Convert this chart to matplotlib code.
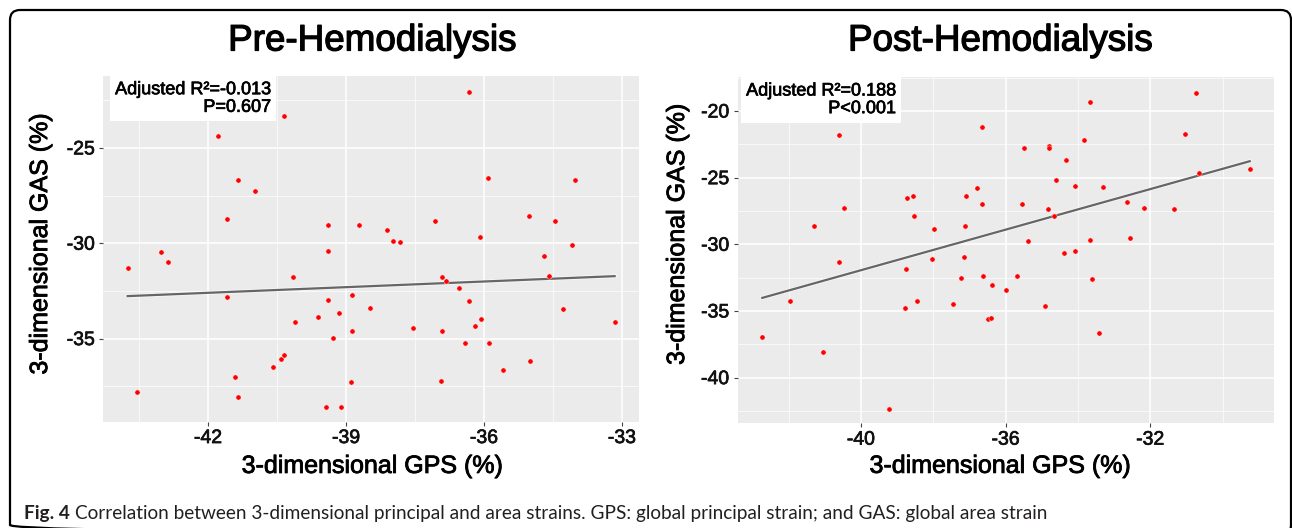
import matplotlib
matplotlib.use('Agg')
import matplotlib.pyplot as plt
import numpy as np
from matplotlib.patches import FancyBboxPatch
from matplotlib.ticker import MultipleLocator
import matplotlib.patheffects as pe

plt.rcParams['font.family'] = ['Liberation Sans', 'DejaVu Sans']

# values
pre_gps = [-43.75, -43.55, -43.02, -42.88, -41.78, -40.34, -41.34, -40.99, -41.59, -41.58, -41.41,
           -41.35, -40.59, -40.41, -40.35, -40.15, -40.11, -39.60, -39.40, -39.40, -39.40, -39.43,
           -38.72, -38.12, -37.98, -37.83, -37.06, -36.33, -35.92, -34.02, -35.03, -34.46, -36.08,
           -34.08, -34.69, -34.58, -36.92, -36.83, -36.55, -38.88, -38.47, -39.15, -36.33, -34.29,
           -36.06, -36.20, -37.54, -36.92, -38.88, -39.29, -33.16, -36.41, -35.89, -35.01, -35.59,
           -38.89, -36.94, -39.10]
pre_gas = [-31.30, -37.80, -30.46, -30.96, -24.37, -23.31, -26.70, -27.27, -28.71, -32.82, -37.00,
           -38.06, -36.50, -36.05, -35.84, -31.77, -34.14, -33.85, -29.04, -30.39, -32.97, -38.57,
           -29.06, -29.30, -29.90, -29.93, -28.83, -22.07, -26.56, -26.70, -28.57, -28.82, -29.67,
           -30.09, -30.67, -31.71, -31.78, -31.99, -32.36, -32.73, -33.38, -33.67, -33.04, -33.43,
           -33.97, -34.35, -34.44, -34.58, -34.62, -34.95, -34.13, -35.23, -35.23, -36.17, -36.64,
           -37.29, -37.24, -38.57]

post_gps = [-42.73, -41.97, -41.05, -41.31, -40.62, -40.46, -40.62, -39.22, -38.74, -38.57, -38.54,
            -38.75, -38.78, -38.46, -37.99, -38.03, -37.45, -37.23, -37.16, -37.12, -37.09, -36.80,
            -36.66, -36.66, -36.62, -36.37, -36.49, -36.41, -36.00, -35.68, -35.56, -35.50, -35.39,
            -34.91, -34.84, -34.80, -34.80, -34.66, -34.60, -34.39, -34.32, -34.08, -34.08, -33.84,
            -33.66, -33.66, -33.61, -33.42, -33.32, -32.64, -32.56, -32.18, -31.35, -31.03, -30.73,
            -30.66, -29.25]
post_gas = [-36.98, -34.23, -38.06, -28.60, -21.82, -27.25, -31.35, -42.33, -26.53, -26.35, -27.90,
            -31.83, -34.76, -34.25, -28.85, -31.08, -34.50, -32.53, -30.98, -28.60, -26.35, -25.80,
            -21.18, -26.98, -32.40, -33.05, -35.60, -35.53, -33.40, -32.40, -26.98, -22.78, -29.73,
            -34.65, -27.37, -22.62, -22.75, -27.85, -25.20, -30.68, -23.68, -25.65, -30.53, -22.20,
            -19.33, -29.68, -32.58, -36.68, -25.68, -26.85, -29.53, -27.25, -27.33, -21.73, -18.65,
            -24.63, -24.35]

titles = ['Pre-Hemodialysis', 'Post-Hemodialysis']
stats = ['Adjusted R\u00b2=-0.013\nP=0.607', 'Adjusted R\u00b2=0.188\nP<0.001']
caption_bold = 'Fig. 4'
caption = ('Correlation between 3-dimensional principal and area strains. '
           'GPS: global principal strain; and GAS: global area strain')


def heavy(t, w=0.6, c='black'):
    # the reference text is a bit heavier than plain regular weight
    t.set_path_effects([pe.Stroke(linewidth=w, foreground=c), pe.Normal()])
    return t


W, H = 1292, 528
fig = plt.figure(figsize=(W / 100, H / 100), dpi=100)

# overlay in pixel coordinates for frame and caption
bg = fig.add_axes([0, 0, 1, 1], zorder=-1)
bg.set_xlim(0, W)
bg.set_ylim(H, 0)
bg.axis('off')
frame = FancyBboxPatch((10, 10), 1281, 525, boxstyle='round,pad=0,rounding_size=10',
                       linewidth=1.6, edgecolor='black', facecolor='none', clip_on=False)
bg.add_patch(frame)
t1 = bg.text(24, 519, caption_bold, fontsize=13.7, fontweight='bold', family=['Lato', 'DejaVu Sans'],
             color='#231f20', va='baseline')
bg.annotate(caption, xy=(1, 0), xycoords=t1, xytext=(4, 0), textcoords='offset points',
            fontsize=13.7, family=['Lato', 'DejaVu Sans'], color='#231f20', va='bottom')

panels = [
    dict(x=pre_gps, y=pre_gas, rect=[103.3, 76, 639, 421.7], xlim=(-44.28, -32.63), ylim=(-39.36, -21.23),
         xmaj=3, ymaj=5, stat_x=0.313, ylab=(-0.118, 0.514), xlab=(0.502, -0.128), title_x=372),
    dict(x=post_gps, y=post_gas, rect=[737.7, 77.3, 1274.3, 423.3], xlim=(-43.41, -28.57), ylim=(-43.43, -17.47),
         xmaj=4, ymaj=5, stat_x=0.295, ylab=(-0.113, 0.546), xlab=(0.489, -0.123), title_x=1000),
]

for p, title, stat in zip(panels, titles, stats):
    x0, y0, x1, y1 = p['rect']
    ax = fig.add_axes([x0 / W, 1 - y1 / H, (x1 - x0) / W, (y1 - y0) / H])
    ax.set_facecolor('#ebebeb')
    for s in ax.spines.values():
        s.set_visible(False)
    ax.set_xlim(*p['xlim'])
    ax.set_ylim(*p['ylim'])
    ax.xaxis.set_major_locator(MultipleLocator(p['xmaj']))
    ax.xaxis.set_minor_locator(MultipleLocator(p['xmaj'] / 2))
    ax.yaxis.set_major_locator(MultipleLocator(p['ymaj']))
    ax.yaxis.set_minor_locator(MultipleLocator(p['ymaj'] / 2))
    ax.grid(which='major', color='white', linewidth=1.1)
    ax.grid(which='minor', color='white', linewidth=0.5)
    ax.set_axisbelow(True)
    ax.tick_params(which='major', length=3, width=0.8, color='#444444', labelsize=14, pad=3,
                   labelcolor='#111111')
    ax.tick_params(which='minor', length=0)
    ax.xaxis.set_major_formatter(plt.FuncFormatter(lambda v, _: '%d' % round(v)))
    ax.yaxis.set_major_formatter(plt.FuncFormatter(lambda v, _: '%d' % round(v)))
    for lab in ax.get_xticklabels() + ax.get_yticklabels():
        heavy(lab, 0.5, '#111111')

    gx = np.array(p['x'])
    gy = np.array(p['y'])
    slope, icpt = np.polyfit(gx, gy, 1)
    lx = np.array([gx.min(), gx.max()])
    ax.plot(lx, icpt + slope * lx, color='#666666', linewidth=1.6, zorder=2,
            path_effects=[pe.Stroke(linewidth=2.8, foreground='white', alpha=0.6), pe.Normal()])
    ax.scatter(gx, gy, s=14, c='red', edgecolors='white', linewidths=0.3, zorder=3)

    st = ax.text(p['stat_x'], 0.985, stat, transform=ax.transAxes, ha='right', va='top',
                 multialignment='right', fontsize=13, color='black', linespacing=1.05,
                 bbox=dict(boxstyle='square,pad=0.3', facecolor='white', edgecolor='none'))
    heavy(st, 0.5)

    heavy(ax.set_xlabel('3-dimensional GPS (%)', fontsize=18, va='center'), 0.6)
    ax.xaxis.set_label_coords(*p['xlab'])
    heavy(ax.set_ylabel('3-dimensional GAS (%)', fontsize=18, va='center'), 0.6)
    ax.yaxis.set_label_coords(*p['ylab'])

    heavy(fig.text(p['title_x'] / W, 1 - 41 / H, title, fontsize=26.5, ha='center', va='center'), 0.9)

fig.savefig('out.png', dpi=100)
